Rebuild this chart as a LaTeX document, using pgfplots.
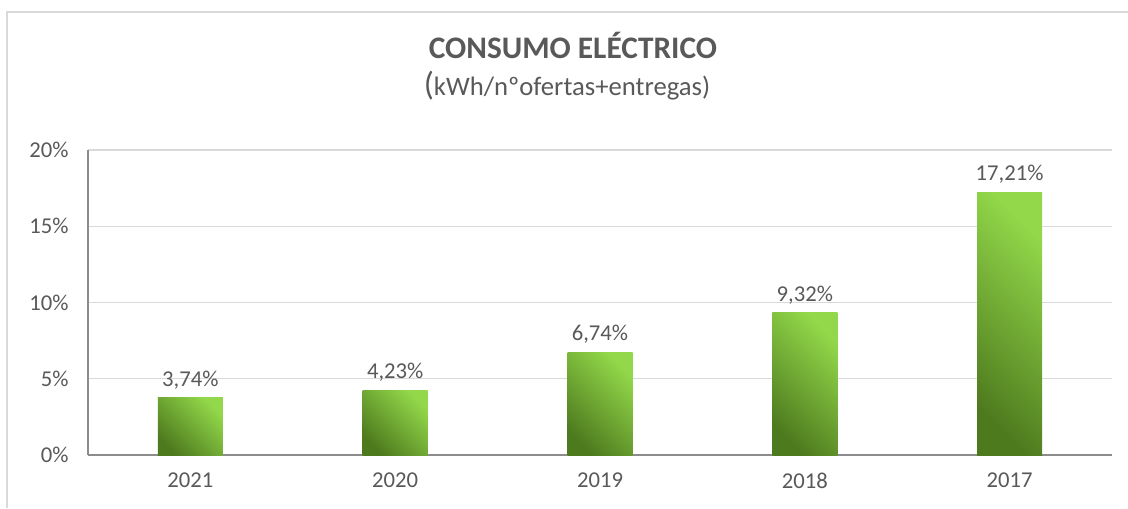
\documentclass[border=0pt]{standalone}
\usepackage{fontspec}
\setmainfont{Carlito}
\usepackage{pgfplots}
\pgfplotsset{compat=1.18}
\definecolor{txt}{HTML}{595959}
\definecolor{gridc}{HTML}{D9D9D9}
\definecolor{axisc}{HTML}{8C8C8C}
\definecolor{darkg}{HTML}{4E7A1E}
\definecolor{lightg}{HTML}{92D84A}
\pgfplotsset{
  gbar/.style={ybar, bar width=48.75pt, bar shift=0pt, draw=none,
    shading=axis, bottom color=darkg, top color=lightg, shading angle=-45,
    nodes near coords, point meta=explicit symbolic,
    every node near coord/.append style={font=\fontsize{17}{20}\selectfont, text=txt, yshift=3pt}},
}
\begin{document}
\begin{tikzpicture}[x=0.75pt,y=0.75pt]
\useasboundingbox (-88,-53) rectangle (1040,455);
\draw[gridc, line width=1.2pt] (-81,-53) -- (-81,443) -- (1040,443);
\node[anchor=base, text=txt, font=\fontsize{23.5}{26}\selectfont\bfseries] at (485,396) {CONSUMO ELÉCTRICO};
\node[anchor=base, text=txt, font=\fontsize{20}{23}\selectfont] at (479,359) {{\fontsize{25}{27}\selectfont(}kWh/nºofertas+entregas)};
\begin{axis}[
  at={(0,0)}, anchor=south west, scale only axis,
  width=768pt, height=228.75pt,
  xmin=-0.5, xmax=4.5, ymin=0, ymax=20,
  axis x line*=bottom, axis y line*=left,
  axis line style={axisc, line width=1pt, -},
  ymajorgrids, grid style={gridc, line width=1pt},
  major tick length=0pt,
  xtick={0,1,2,3,4},
  xticklabels={2021,2020,2019,2018,2017},
  ytick={0,5,10,15,20},
  yticklabels={0\%,5\%,10\%,15\%,20\%},
  tick label style={font=\fontsize{17}{20}\selectfont, text=txt},
  yticklabel style={xshift=-11pt},
  xticklabel style={yshift=-10pt},
  clip=false,
]
\addplot[gbar] coordinates {(0,3.74) [3,74\%]};
\addplot[gbar] coordinates {(1,4.23) [4,23\%]};
\addplot[gbar] coordinates {(2,6.74) [6,74\%]};
\addplot[gbar] coordinates {(3,9.32) [9,32\%]};
\addplot[gbar] coordinates {(4,17.21) [17,21\%]};
\end{axis}
\end{tikzpicture}
\end{document}
